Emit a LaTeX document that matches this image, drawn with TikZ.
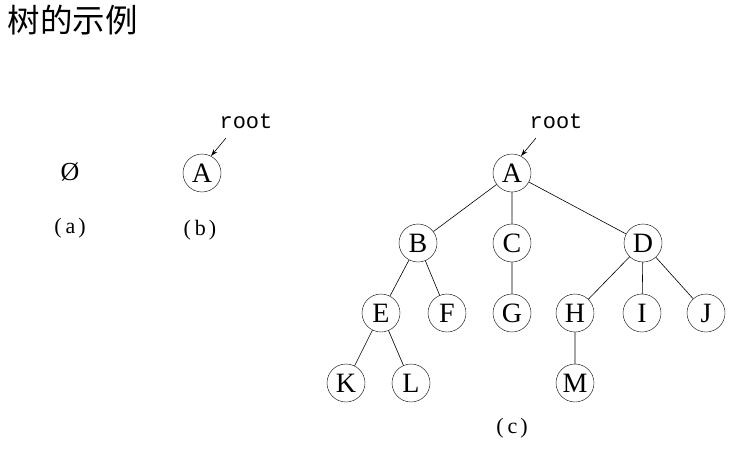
\documentclass[tikz,border=0pt]{standalone}
\usepackage{fontspec}
\usetikzlibrary{arrows.meta}
\setmainfont{Liberation Serif}
\newfontfamily\cjk{Noto Sans CJK SC}
\newfontfamily\monof{Liberation Mono}
\newcommand{\plbl}[1]{(\hspace{4pt}#1\hspace{3pt})}
\begin{document}
\begin{tikzpicture}[x=1pt,y=-1pt,
  tnode/.style={draw,circle,minimum size=38pt,inner sep=0pt,font=\fontsize{28}{28}\selectfont},
  edge/.style={draw,line width=0.6pt},
  lbl/.style={font=\fontsize{22}{22}\selectfont},
  rootlbl/.style={font=\monof\fontsize{22}{22}\selectfont},
  rarrow/.style={draw,line width=0.6pt,-{Stealth[length=7pt,width=4.5pt]}}]
\useasboundingbox (0,0) rectangle (742,466);
\node[anchor=west,font=\cjk\fontsize{32.5}{32.5}\selectfont] (title) at (4,20) {树的示例};
% (a)
\node[font=\fontsize{26}{26}\selectfont] (empty) at (70,172) {Ø};
\node[lbl] (la) at (70,228) {\plbl{a}};
% (b)
\node[tnode] (bA) at (202,173) {A};
\node[rootlbl] (broot) at (246,121) {root};
\coordinate (barr) at (226,138);
\draw[rarrow] (barr) -- (bA.62);
\node[lbl] (lb) at (200,230) {\plbl{b}};
% (c)
\node[tnode] (A) at (512,173) {A};
\node[rootlbl] (croot) at (556,121) {root};
\coordinate (carr) at (536,138);
\draw[rarrow] (carr) -- (A.62);
\node[tnode] (B) at (418,243) {B};
\node[tnode] (C) at (512,243) {C};
\node[tnode] (D) at (643,243) {D};
\node[tnode] (E) at (381,313) {E};
\node[tnode] (F) at (447,313) {F};
\node[tnode] (G) at (512,313) {G};
\node[tnode] (H) at (575,313) {H};
\node[tnode] (I) at (642,313) {I};
\node[tnode] (J) at (706,313) {J};
\node[tnode] (K) at (346,383) {K};
\node[tnode] (L) at (411,383) {L};
\node[tnode] (M) at (575,383) {M};
\path[edge] (A) -- (B) (A) -- (C) (A) -- (D)
  (B) -- (E) (B) -- (F) (C) -- (G)
  (D) -- (H) (D) -- (I) (D) -- (J)
  (E) -- (K) (E) -- (L) (H) -- (M);
\node[lbl] (lc) at (512,428) {\plbl{c}};
\end{tikzpicture}
\end{document}
